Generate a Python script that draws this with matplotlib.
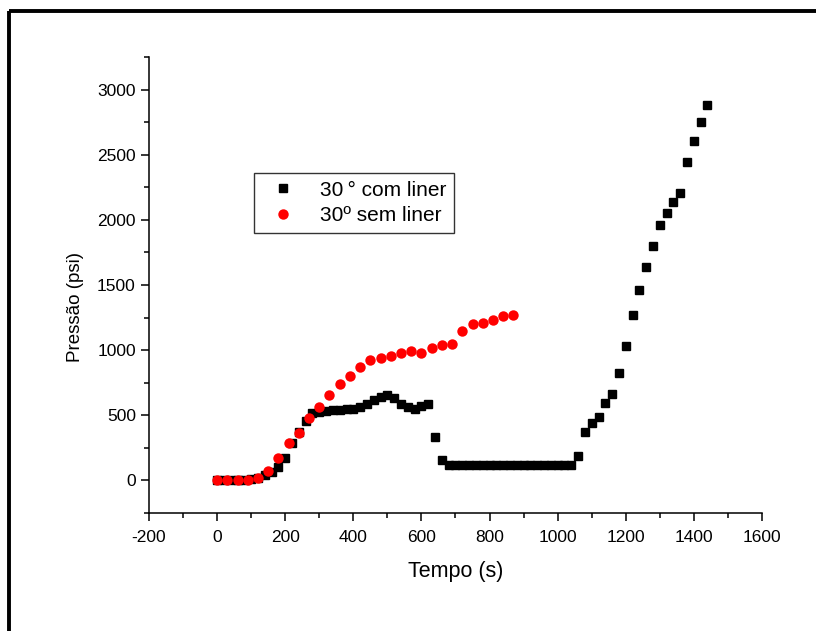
import matplotlib.pyplot as plt
from matplotlib.lines import Line2D
from matplotlib.ticker import MultipleLocator

plt.rcParams["font.family"] = ["Liberation Sans", "DejaVu Sans"]
plt.rcParams["axes.unicode_minus"] = False

# 30° com liner (every 20 s)
t_com = list(range(0, 1441, 20))
p_com = [0, 0, 0, 0, 5, 10, 20, 40, 65, 105,
         175, 285, 370, 456, 520, 528, 533, 540, 543, 545,
         550, 565, 590, 615, 640, 655, 630, 590, 565, 550,
         570, 585, 335, 160, 120, 120, 120, 120, 120, 120,
         120, 120, 120, 120, 120, 120, 120, 120, 120, 120,
         120, 120, 120, 185, 374, 444, 490, 598, 664, 828,
         1033, 1272, 1464, 1641, 1797, 1964, 2051, 2136, 2205, 2444,
         2602, 2749, 2879]

# 30º sem liner (every 30 s)
t_sem = list(range(0, 871, 30))
p_sem = [0, 0, 0, 5, 20, 72, 174, 285, 367, 477,
         564, 659, 738, 802, 869, 923, 938, 954, 979, 990,
         977, 1013, 1041, 1049, 1144, 1203, 1210, 1233, 1264, 1272]

fig = plt.figure(figsize=(8.16, 6.31), dpi=100)
ax = fig.add_axes([0.1826, 0.187, 0.7512, 0.7227])

ax.plot(t_com, p_com, "s", color="black", markersize=6, label="30\u2009\u00b0 com liner", zorder=3)
ax.plot(t_sem, p_sem, "o", color="#ff0000", markersize=7.5, markeredgewidth=0,
        label="30\u00ba sem liner", zorder=4)

ax.set_xlim(-200, 1600)
ax.set_ylim(-250, 3250)
ax.xaxis.set_major_locator(MultipleLocator(200))
ax.xaxis.set_minor_locator(MultipleLocator(100))
ax.yaxis.set_major_locator(MultipleLocator(500))
ax.yaxis.set_minor_locator(MultipleLocator(250))

for s in ["top", "right"]:
    ax.spines[s].set_visible(False)
for s in ["left", "bottom"]:
    ax.spines[s].set_linewidth(1.1)
ax.tick_params(which="major", direction="out", length=6, width=1.1, labelsize=12.5)
ax.tick_params(axis="x", which="major", pad=6)
ax.tick_params(which="minor", direction="out", length=3.5, width=1.1)

ax.set_xlabel("Tempo (s)", fontsize=15.5)
ax.set_ylabel("Pressão (psi)", fontsize=13.5)
ax.xaxis.set_label_coords(0.501, -0.105)
ax.yaxis.set_label_coords(-0.106, 0.452)

ax.legend(loc="upper left", bbox_to_anchor=(0.171, 0.746), borderaxespad=0,
          fontsize=15, frameon=True, fancybox=False, edgecolor="black",
          handletextpad=0.8, labelspacing=0.3, borderpad=0.38, handlelength=2.0)
ax.get_legend().get_frame().set_linewidth(1.0)

# outer frame (partially cropped in the original)
fig.add_artist(Line2D([0.0111, 1.0], [0.9818, 0.9818], color="black", linewidth=2.8,
                      transform=fig.transFigure, solid_capstyle="butt"))
fig.add_artist(Line2D([0.0111, 0.0111], [0.0, 0.9818], color="black", linewidth=2.8,
                      transform=fig.transFigure, solid_capstyle="butt"))

fig.savefig("out.png", dpi=100)
